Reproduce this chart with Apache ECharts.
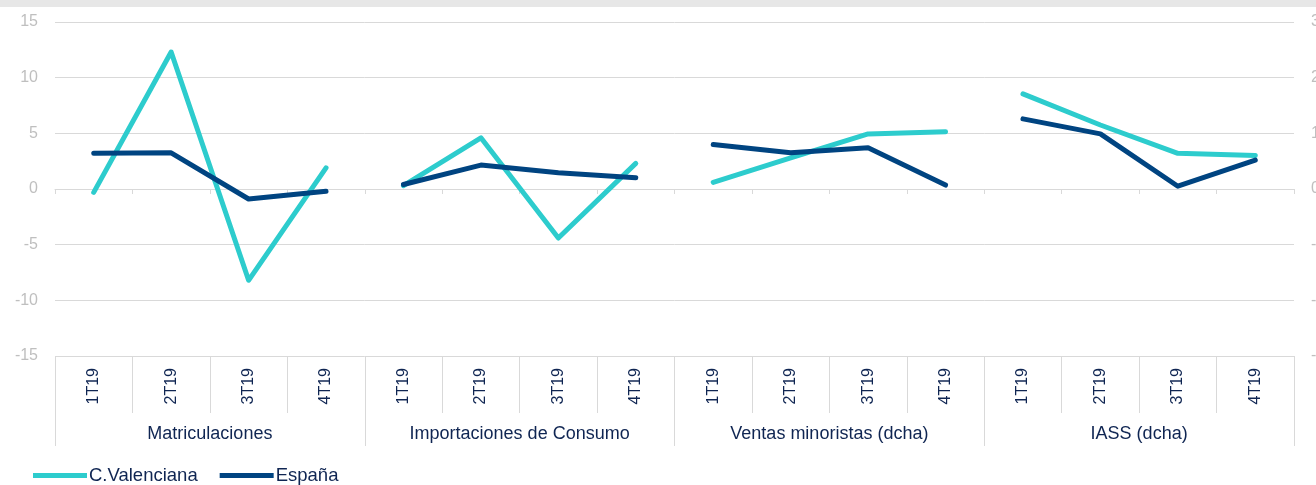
<!DOCTYPE html>
<html style="height: 100%">
<head>
    <meta charset="utf-8">
    <title>Indicadores de consumo</title>
    <script src="https://cdn.jsdelivr.net/npm/echarts@6/dist/echarts.min.js"></script>
</head>
<body style="height: 100%; margin: 0; background: #fff;">
<div id="container" style="width: 1316px; height: 485px;"></div>
<script type="text/javascript">
    // datos (tasas) - las dos ultimas agrupaciones van al eje derecho
    var quarters = ['1T19', '2T19', '3T19', '4T19'];
    var groups = ['Matriculaciones', 'Importaciones de Consumo', 'Ventas minoristas (dcha)', 'IASS (dcha)'];
    var groupOnRight = [false, false, true, true];

    var cvMatric = [-0.3, 12.3, -8.2, 1.9];
    var cvImport = [0.3, 4.6, -4.4, 2.3];
    var cvVentas = [0.12, 0.56, 0.99, 1.03];
    var cvIass = [1.71, 1.15, 0.64, 0.6];

    var esMatric = [3.2, 3.25, -0.9, -0.2];
    var esImport = [0.4, 2.15, 1.45, 1.0];
    var esVentas = [0.8, 0.65, 0.74, 0.07];
    var esIass = [1.26, 0.99, 0.05, 0.52];

    var leftTicks = [-15, -10, -5, 0, 5, 10, 15];
    var rightTicks = [-3, -2, -1, 0, 1, 2, 3];

    var cvByGroup = [cvMatric, cvImport, cvVentas, cvIass];
    var esByGroup = [esMatric, esImport, esVentas, esIass];

    var colorCV = '#2DCCCD';
    var colorES = '#004481';
    var textColor = '#0f2552';
    var gridColor = '#d9d9d9';

    // categorias 16 (trimestre por grupo)
    var categories = [];
    groups.forEach(function (g) {
        quarters.forEach(function (q) { categories.push(q); });
    });

    function padGroup(values, gi) {
        var arr = [];
        for (var i = 0; i < categories.length; i++) {
            var k = i - gi * quarters.length;
            arr.push(k >= 0 && k < quarters.length ? values[k] : null);
        }
        return arr;
    }

    var series = [];
    groups.forEach(function (g, gi) {
        var yIdx = groupOnRight[gi] ? 1 : 0;
        series.push({
            name: 'C.Valenciana', type: 'line', xAxisIndex: 0, yAxisIndex: yIdx,
            data: padGroup(cvByGroup[gi], gi), showSymbol: false, symbol: 'none',
            lineStyle: {color: colorCV, width: 5, cap: 'round', join: 'round'},
            itemStyle: {color: colorCV}, z: 3
        });
        series.push({
            name: 'España', type: 'line', xAxisIndex: 0, yAxisIndex: yIdx,
            data: padGroup(esByGroup[gi], gi), showSymbol: false, symbol: 'none',
            lineStyle: {color: colorES, width: 5, cap: 'round', join: 'round'},
            itemStyle: {color: colorES}, z: 4
        });
    });

    var myChart = echarts.init(document.getElementById('container'));
    var option = {
        animation: false,
        textStyle: {fontFamily: 'Liberation Sans, Arial, sans-serif'},
        graphic: [{
            type: 'rect', left: 0, top: 0,
            shape: {width: 1316, height: 7},
            style: {fill: '#e7e7e7'}
        }],
        legend: {
            left: 33, top: 466, padding: 0,
            itemWidth: 54, itemHeight: 5, itemGap: 22,
            icon: 'rect',
            textStyle: {color: textColor, fontSize: 18.5, padding: [0, 0, 0, -3]},
            data: ['C.Valenciana', 'España']
        },
        grid: {left: 55, right: 22, top: 22, bottom: 129, outerBoundsMode: 'none'},
        xAxis: [
            {
                // eje de datos, linea en el cero
                type: 'category', data: categories, boundaryGap: true,
                axisLine: {onZero: true, onZeroAxisIndex: 0, lineStyle: {color: gridColor, width: 1}},
                axisTick: {show: true, interval: 0, length: 5, lineStyle: {color: gridColor}},
                axisLabel: {show: false}, splitLine: {show: false}
            },
            {
                type: 'category', data: categories, position: 'bottom', boundaryGap: true,
                axisLine: {show: false, onZero: false},
                axisTick: {show: true, interval: 0, length: 57, lineStyle: {color: gridColor}},
                axisLabel: {interval: 0, rotate: 90, margin: 12, fontSize: 16, color: textColor}
            },
            {
                type: 'category', data: groups, position: 'bottom', boundaryGap: true,
                axisLine: {show: false, onZero: false},
                axisTick: {show: true, interval: 0, length: 90, lineStyle: {color: gridColor}},
                axisLabel: {interval: 0, margin: 69, fontSize: 18, color: textColor}
            }
        ],
        yAxis: [
            {
                type: 'value', min: leftTicks[0], max: leftTicks[leftTicks.length - 1], interval: 5,
                axisLine: {show: false}, axisTick: {show: false},
                axisLabel: {color: '#bfbfbf', fontSize: 16, margin: 17},
                splitLine: {lineStyle: {color: gridColor, width: 1}}
            },
            {
                type: 'value', position: 'right',
                min: rightTicks[0], max: rightTicks[rightTicks.length - 1], interval: 1,
                axisLine: {show: false}, axisTick: {show: false},
                axisLabel: {color: '#bfbfbf', fontSize: 16, margin: 17},
                splitLine: {show: false}
            }
        ],
        series: series
    };
    myChart.setOption(option);
</script>
</body>
</html>
